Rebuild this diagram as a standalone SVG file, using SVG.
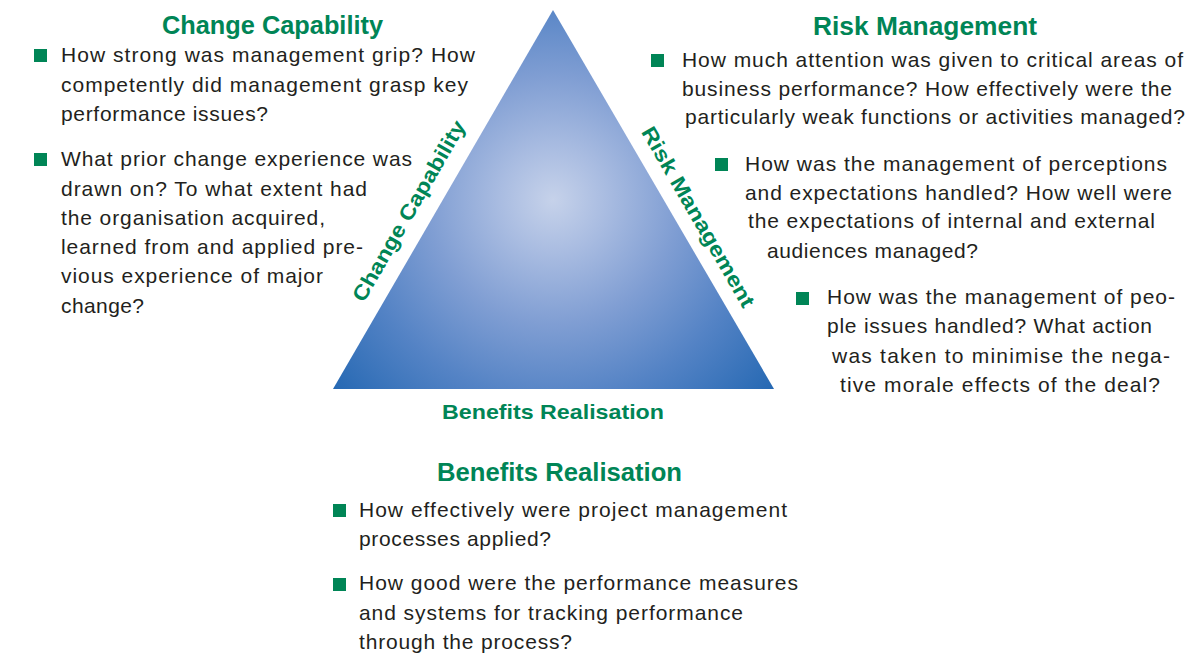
<svg xmlns="http://www.w3.org/2000/svg" width="1194" height="654" viewBox="0 0 1194 654">
<style>
.body{font-family:"Liberation Sans",Arial,sans-serif;font-size:21px;fill:#231f20;}
.title{font-family:"Liberation Sans",Arial,sans-serif;font-size:25.5px;font-weight:bold;fill:#008556;}
.lab{font-family:"Liberation Sans",Arial,sans-serif;font-size:21px;font-weight:bold;fill:#008556;}
.bul{fill:#008556;}
</style>
<defs>
<radialGradient id="tri" gradientUnits="userSpaceOnUse" cx="553" cy="200" r="295">
<stop offset="0" stop-color="#c6d2ea"/>
<stop offset="0.18" stop-color="#a9bce1"/>
<stop offset="0.42" stop-color="#809ed3"/>
<stop offset="0.68" stop-color="#5483c5"/>
<stop offset="1" stop-color="#2367b2"/>
</radialGradient>
</defs>
<rect width="1194" height="654" fill="#ffffff"/>
<g id="triangle">
<polygon points="553,10 774,389 333,389" fill="url(#tri)"/>
<text class="lab" transform="translate(415,214.5) rotate(-60)" text-anchor="middle" textLength="205" lengthAdjust="spacingAndGlyphs">Change Capability</text>
<text class="lab" transform="translate(692,220.5) rotate(60)" text-anchor="middle" textLength="205" lengthAdjust="spacingAndGlyphs">Risk Management</text>
<text class="lab" x="442" y="419" textLength="222" lengthAdjust="spacingAndGlyphs">Benefits Realisation</text>
</g>
<g id="connectors"></g>
<g id="change-capability">
<text class="title" x="162" y="34" textLength="221" lengthAdjust="spacingAndGlyphs">Change Capability</text>
<rect class="bul" x="34" y="49" width="13" height="13"/>
<text class="body" x="61" y="62" textLength="414">How strong was management grip? How</text>
<text class="body" x="61" y="92" textLength="407">competently did management grasp key</text>
<text class="body" x="61" y="121" textLength="207">performance issues?</text>
<rect class="bul" x="34" y="153" width="13" height="13"/>
<text class="body" x="61" y="166" textLength="351">What prior change experience was</text>
<text class="body" x="61" y="196" textLength="306">drawn on? To what extent had</text>
<text class="body" x="61" y="225" textLength="264">the organisation acquired,</text>
<text class="body" x="61" y="254" textLength="302">learned from and applied pre-</text>
<text class="body" x="61" y="283" textLength="262">vious experience of major</text>
<text class="body" x="61" y="313" textLength="83">change?</text>
</g>
<g id="risk-management">
<text class="title" x="813" y="35" textLength="224" lengthAdjust="spacingAndGlyphs">Risk Management</text>
<rect class="bul" x="651" y="54" width="13" height="13"/>
<text class="body" x="682" y="67" textLength="501">How much attention was given to critical areas of</text>
<text class="body" x="682" y="96" textLength="490">business performance? How effectively were the</text>
<text class="body" x="685" y="124" textLength="500">particularly weak functions or activities managed?</text>
<rect class="bul" x="715" y="158" width="13" height="13"/>
<text class="body" x="745" y="171" textLength="422">How was the management of perceptions</text>
<text class="body" x="745" y="200" textLength="427">and expectations handled? How well were</text>
<text class="body" x="748" y="228" textLength="407">the expectations of internal and external</text>
<text class="body" x="767" y="258" textLength="211">audiences managed?</text>
<rect class="bul" x="796" y="292" width="13" height="13"/>
<text class="body" x="827" y="304" textLength="348">How was the management of peo-</text>
<text class="body" x="827" y="333" textLength="325">ple issues handled? What action</text>
<text class="body" x="832" y="363" textLength="338">was taken to minimise the nega-</text>
<text class="body" x="840" y="392" textLength="320">tive morale effects of the deal?</text>
</g>
<g id="benefits-realisation">
<text class="title" x="437" y="481" textLength="245" lengthAdjust="spacingAndGlyphs">Benefits Realisation</text>
<rect class="bul" x="333" y="504" width="13" height="13"/>
<text class="body" x="359" y="517" textLength="428">How effectively were project management</text>
<text class="body" x="359" y="546" textLength="192">processes applied?</text>
<rect class="bul" x="333" y="578" width="13" height="13"/>
<text class="body" x="359" y="590" textLength="439">How good were the performance measures</text>
<text class="body" x="359" y="620" textLength="384">and systems for tracking performance</text>
<text class="body" x="359" y="649" textLength="213">through the process?</text>
</g>
</svg>
